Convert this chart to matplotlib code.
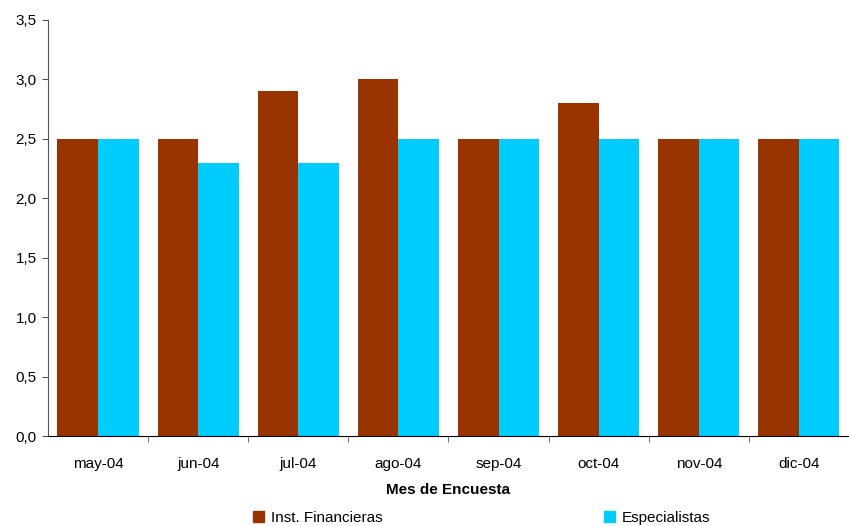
import numpy as np
import matplotlib.pyplot as plt
from matplotlib.ticker import FuncFormatter, MultipleLocator
from matplotlib.patches import Patch

plt.rcParams['font.family'] = ['Liberation Sans', 'DejaVu Sans']

meses = ["may-04", "jun-04", "jul-04", "ago-04", "sep-04", "oct-04", "nov-04", "dic-04"]
inst_fin = [2.5, 2.5, 2.9, 3.0, 2.5, 2.8, 2.5, 2.5]
especialistas = [2.5, 2.3, 2.3, 2.5, 2.5, 2.5, 2.5, 2.5]

c_inst = "#993300"
c_esp = "#00CCFF"

fig = plt.figure(figsize=(8.49, 5.26), dpi=100)
ax = fig.add_axes([0.0565, 0.171, 0.9435, 0.791])

x = np.arange(len(meses))
w = 0.405
ax.bar(x - w/2, inst_fin, w, color=c_inst)
ax.bar(x + w/2, especialistas, w, color=c_esp)

ax.set_xlim(-0.5, len(meses) - 0.5)
ax.set_ylim(0, 3.5)
ax.yaxis.set_major_locator(MultipleLocator(0.5))
ax.yaxis.set_major_formatter(FuncFormatter(lambda v, p: f"{v:.1f}".replace(".", ",")))
ax.set_xticks(x)
ax.set_xticklabels(meses)
ax.set_xticks(np.arange(0.5, len(meses) - 0.5, 1), minor=True)
ax.tick_params(axis="x", which="major", length=0, pad=15, labelsize=11)
ax.tick_params(axis="x", which="minor", length=4, direction="out", color="#555555")
ax.tick_params(axis="y", length=4, color="#555555", labelsize=11, pad=4)

for s in ["top", "right"]:
    ax.spines[s].set_visible(False)
ax.spines["left"].set_color("#555555")
ax.spines["bottom"].set_color("black")

ax.set_xlabel("Mes de Encuesta", fontsize=11, fontweight="bold", labelpad=9)

handles = [Patch(color=c_inst, label="Inst. Financieras"),
           Patch(color=c_esp, label="Especialistas")]
fig.legend(handles=handles, ncol=2, loc="center", bbox_to_anchor=(0.567, 0.016),
           frameon=False, fontsize=11, handlelength=0.75, handleheight=0.75,
           handletextpad=0.4, columnspacing=14.5)

fig.savefig("out.png", dpi=100)
